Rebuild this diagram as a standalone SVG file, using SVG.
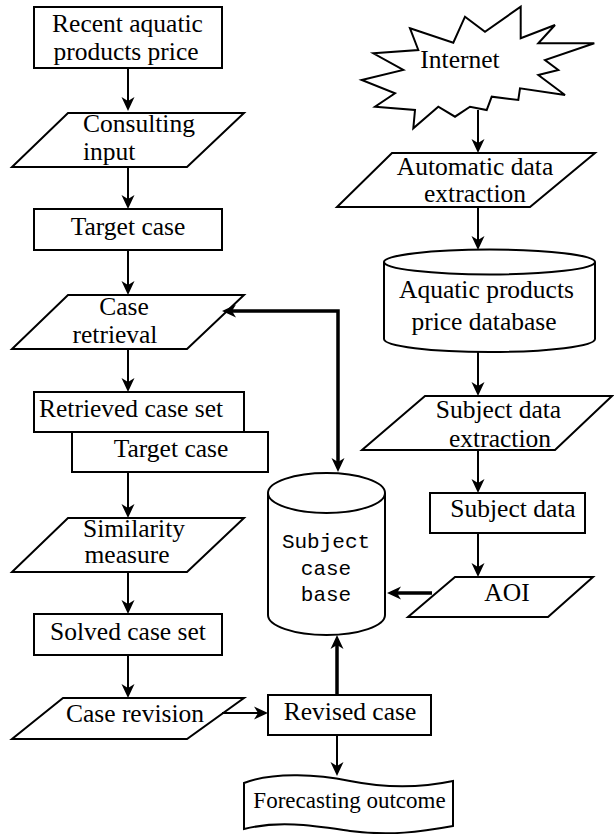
<svg xmlns="http://www.w3.org/2000/svg" width="614" height="834" viewBox="0 0 614 834">
<style>
.s{fill:#fff;stroke:#000;stroke-width:2}
.t{font-family:"Liberation Serif","Times New Roman",serif;font-size:25.5px;fill:#000}
.m{font-family:"Liberation Mono","Courier New",monospace;font-size:21px;fill:#000;text-anchor:middle}
.c{text-anchor:middle}
.l{fill:none;stroke:#000;stroke-width:2}
.k{fill:none;stroke:#000;stroke-width:3.5}
</style>
<defs>
<marker id="ah" viewBox="0 0 14 14" refX="10" refY="7" markerWidth="14" markerHeight="14" markerUnits="userSpaceOnUse" orient="auto-start-reverse">
<path d="M0,0.5 L14,7 L0,13.5 L4,7 Z" fill="#000"/>
</marker>
</defs>
<rect width="614" height="834" fill="#fff"/>

<g id="recent">
<rect class="s" x="34" y="7" width="188" height="61"/>
<text class="t c" x="127.5" y="32">Recent aquatic</text>
<text class="t c" x="126" y="60">products price</text>
</g>
<g id="consulting">
<polygon class="s" points="68,113 244,113 187,167 12,167"/>
<text class="t" x="83" y="132">Consulting</text>
<text class="t" x="83" y="160">input</text>
</g>
<g id="target1">
<rect class="s" x="34" y="209" width="188" height="41"/>
<text class="t c" x="128" y="235">Target case</text>
</g>
<g id="retrieval">
<polygon class="s" points="68,295 244,295 187,349 12,349"/>
<text class="t c" x="124" y="315">Case</text>
<text class="t c" x="115" y="343">retrieval</text>
</g>
<g id="retrievedset">
<rect class="s" x="34" y="392" width="210" height="40"/>
<text class="t" x="39" y="417">Retrieved case set</text>
</g>
<g id="target2">
<rect class="s" x="72" y="432" width="196" height="40"/>
<text class="t c" x="171" y="457">Target case</text>
</g>
<g id="similarity">
<polygon class="s" points="68,518 244,518 187,572 12,572"/>
<text class="t c" x="134" y="537">Similarity</text>
<text class="t c" x="127" y="563">measure</text>
</g>
<g id="solved">
<rect class="s" x="34" y="614" width="188" height="41"/>
<text class="t c" x="128" y="640">Solved case set</text>
</g>
<g id="revision">
<polygon class="s" points="63,698 244,698 187,739 12,739"/>
<text class="t c" x="135" y="722">Case revision</text>
</g>
<g id="revised">
<rect class="s" x="268" y="695" width="163" height="40"/>
<text class="t c" x="350" y="720">Revised case</text>
</g>
<g id="forecast">
<path class="s" d="M244,783 C275,771 320,775 350,781 C385,788 420,788 453,781 L453,826 C420,832 390,836 350,831 C315,826 280,820 244,829 Z"/>
<text class="t c" x="349.5" y="808" style="font-size:23px">Forecasting outcome</text>
</g>
<g id="casebase">
<path class="s" d="M268,493 V615 A58.5,20 0 0 0 385,615 V493"/>
<ellipse class="s" cx="326.5" cy="493" rx="58.5" ry="20"/>
<text class="m" x="326" y="548">Subject</text>
<text class="m" x="326" y="575">case</text>
<text class="m" x="326" y="601">base</text>
</g>
<g id="internet">
<polygon class="s" points="410,28.3 453.3,42.7 465,16.7 485,31.7 520.7,6.7 520.7,38.3 555,25 538.3,43.3 594.3,43.3 545,60 558.3,70 538.3,75 565,95 520,88.3 518.3,100 491.7,96.7 486.7,110 470,106.7 455,116.7 438.3,106.7 413.3,128.3 415,110 375,106.7 395,93.3 361.7,80 403.3,70 373.3,53.3 418.3,50"/>
<text class="t c" x="460" y="68">Internet</text>
</g>
<g id="autoextract">
<polygon class="s" points="392,153 595,153 530,207 337,207"/>
<text class="t c" x="475" y="175">Automatic data</text>
<text class="t c" x="475" y="202">extraction</text>
</g>
<g id="pricedb">
<path class="s" d="M384,262 V339 A105.5,13 0 0 0 595,339 V262"/>
<ellipse class="s" cx="489.5" cy="262" rx="105.5" ry="12.5"/>
<text class="t c" x="486.5" y="298">Aquatic products</text>
<text class="t c" x="484" y="330">price database</text>
</g>
<g id="subjextract">
<polygon class="s" points="425,396 612,396 555,450 362,450"/>
<text class="t c" x="498.5" y="418">Subject data</text>
<text class="t c" x="500" y="447">extraction</text>
</g>
<g id="subjdata">
<rect class="s" x="430" y="493" width="155" height="40"/>
<text class="t c" x="513" y="517">Subject data</text>
</g>
<g id="aoi">
<polygon class="s" points="455,577 593,577 548,617 408,617"/>
<text class="t c" x="507" y="601">AOI</text>
</g>

<g id="connectors" marker-end="url(#ah)">
<path class="l" d="M128,68 V107"/>
<path class="l" d="M128,167 V205"/>
<path class="l" d="M128,250 V291"/>
<path class="l" d="M128,349 V388"/>
<path class="l" d="M128,472 V514"/>
<path class="l" d="M128,572 V610"/>
<path class="l" d="M128,655 V694"/>
<path class="l" d="M222,713 H264"/>
<path class="k" d="M337,695 V639"/>
<path class="l" d="M337,735 V772"/>
<path class="k" d="M432,593 H391"/>
<path class="k" d="M338,468 V311 H226" marker-start="url(#ah)"/>
<path class="l" d="M478,110 V149"/>
<path class="l" d="M478,207 V246"/>
<path class="l" d="M478,352 V392"/>
<path class="l" d="M478,450 V489"/>
<path class="l" d="M478,533 V573"/>
</g>
</svg>
